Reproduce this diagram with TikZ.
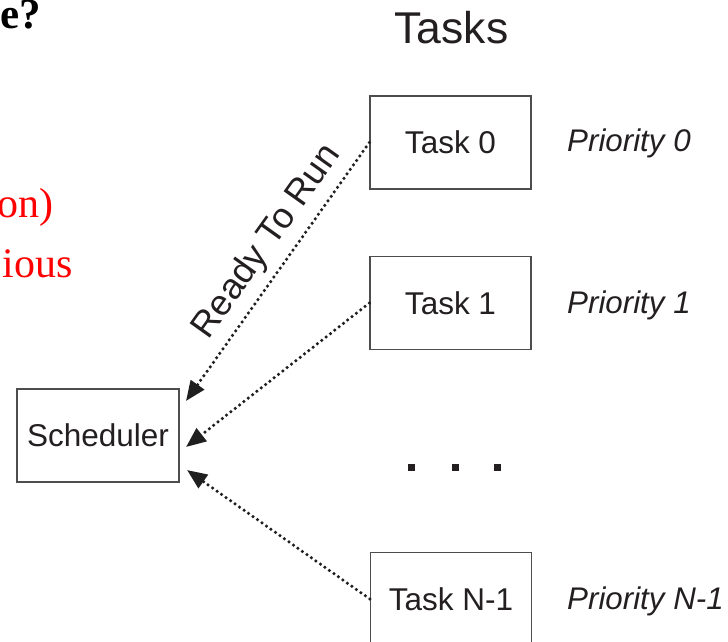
\documentclass[tikz,border=0pt]{standalone}
\usepackage{fontspec}
\setmainfont{Liberation Serif}
\setsansfont{Liberation Sans}
\usetikzlibrary{arrows.meta}
\definecolor{ink}{HTML}{231F20}
\definecolor{boxline}{HTML}{4D4D4D}
\definecolor{dotline}{HTML}{1F1F1F}
\tikzset{
  taskbox/.style={draw=boxline, line width=1.3pt, minimum width=161pt, minimum height=93pt,
    inner sep=0pt, font=\sffamily\fontsize{31.5}{36}\selectfont, text=ink},
  prio/.style={anchor=base west, inner sep=0pt, font=\sffamily\itshape\fontsize{31.3}{36}\selectfont, text=ink},
  ready/.style={draw=dotline, line width=3.5pt, dash pattern=on 0pt off 5.5pt, line cap=round,
    -{Triangle[length=20pt,width=16pt]}},
  slidetext/.style={anchor=base east, inner sep=0pt, text=red, font=\rmfamily\fontsize{42}{48}\selectfont},
  dotsq/.style={fill=ink, draw=none},
}
\begin{document}
\begin{tikzpicture}[x=1pt,y=-1pt]
\useasboundingbox (0,0) rectangle (728,641);
\clip (0,0) rectangle (728,641);

% slide fragments
\node[anchor=base east, inner sep=0pt, text=black, font=\rmfamily\bfseries\fontsize{43}{48}\selectfont] (q) at (41,28) {e?};
\node[slidetext] (l1) at (54,217) {on)};
\node[slidetext] (l2) at (73,277) {ious};

% title
\node[anchor=base, inner sep=0pt, text=ink, font=\sffamily\fontsize{44.5}{50}\selectfont] (title) at (451.5,43) {Tasks};

% boxes
\node[taskbox] (task0) at (450.5,142.5) {Task 0};
\node[taskbox] (task1) at (450.5,303) {Task 1};
\node[taskbox] (taskn) at (451,599) {Task N-1};
\node[taskbox, minimum width=162pt] (sched) at (98,435.5) {Scheduler};

% priorities
\node[prio] (p0) at (567,151) {Priority 0};
\node[prio] (p1) at (567,313) {Priority 1};
\node[prio] (pn) at (567,609) {Priority N-1};

% dots
\fill[dotsq] (407.5,463.5) rectangle ++(7,7);
\fill[dotsq] (451.5,463.5) rectangle ++(7,7);
\fill[dotsq] (493.5,463.5) rectangle ++(7,7);

% arrow tips near scheduler
\coordinate (tip0) at (186,401);
\coordinate (tip1) at (186,447);
\coordinate (tipn) at (187,470);

\draw[ready] (task0.west) -- (tip0);
\draw[ready] (task1.west) -- (tip1);
\draw[ready] (taskn.west) -- (tipn);

% label
\node[rotate=54.5, inner sep=0pt, text=ink, font=\sffamily\fontsize{36}{42}\selectfont] (rtr) at (267,242) {Ready To Run};
\end{tikzpicture}
\end{document}
